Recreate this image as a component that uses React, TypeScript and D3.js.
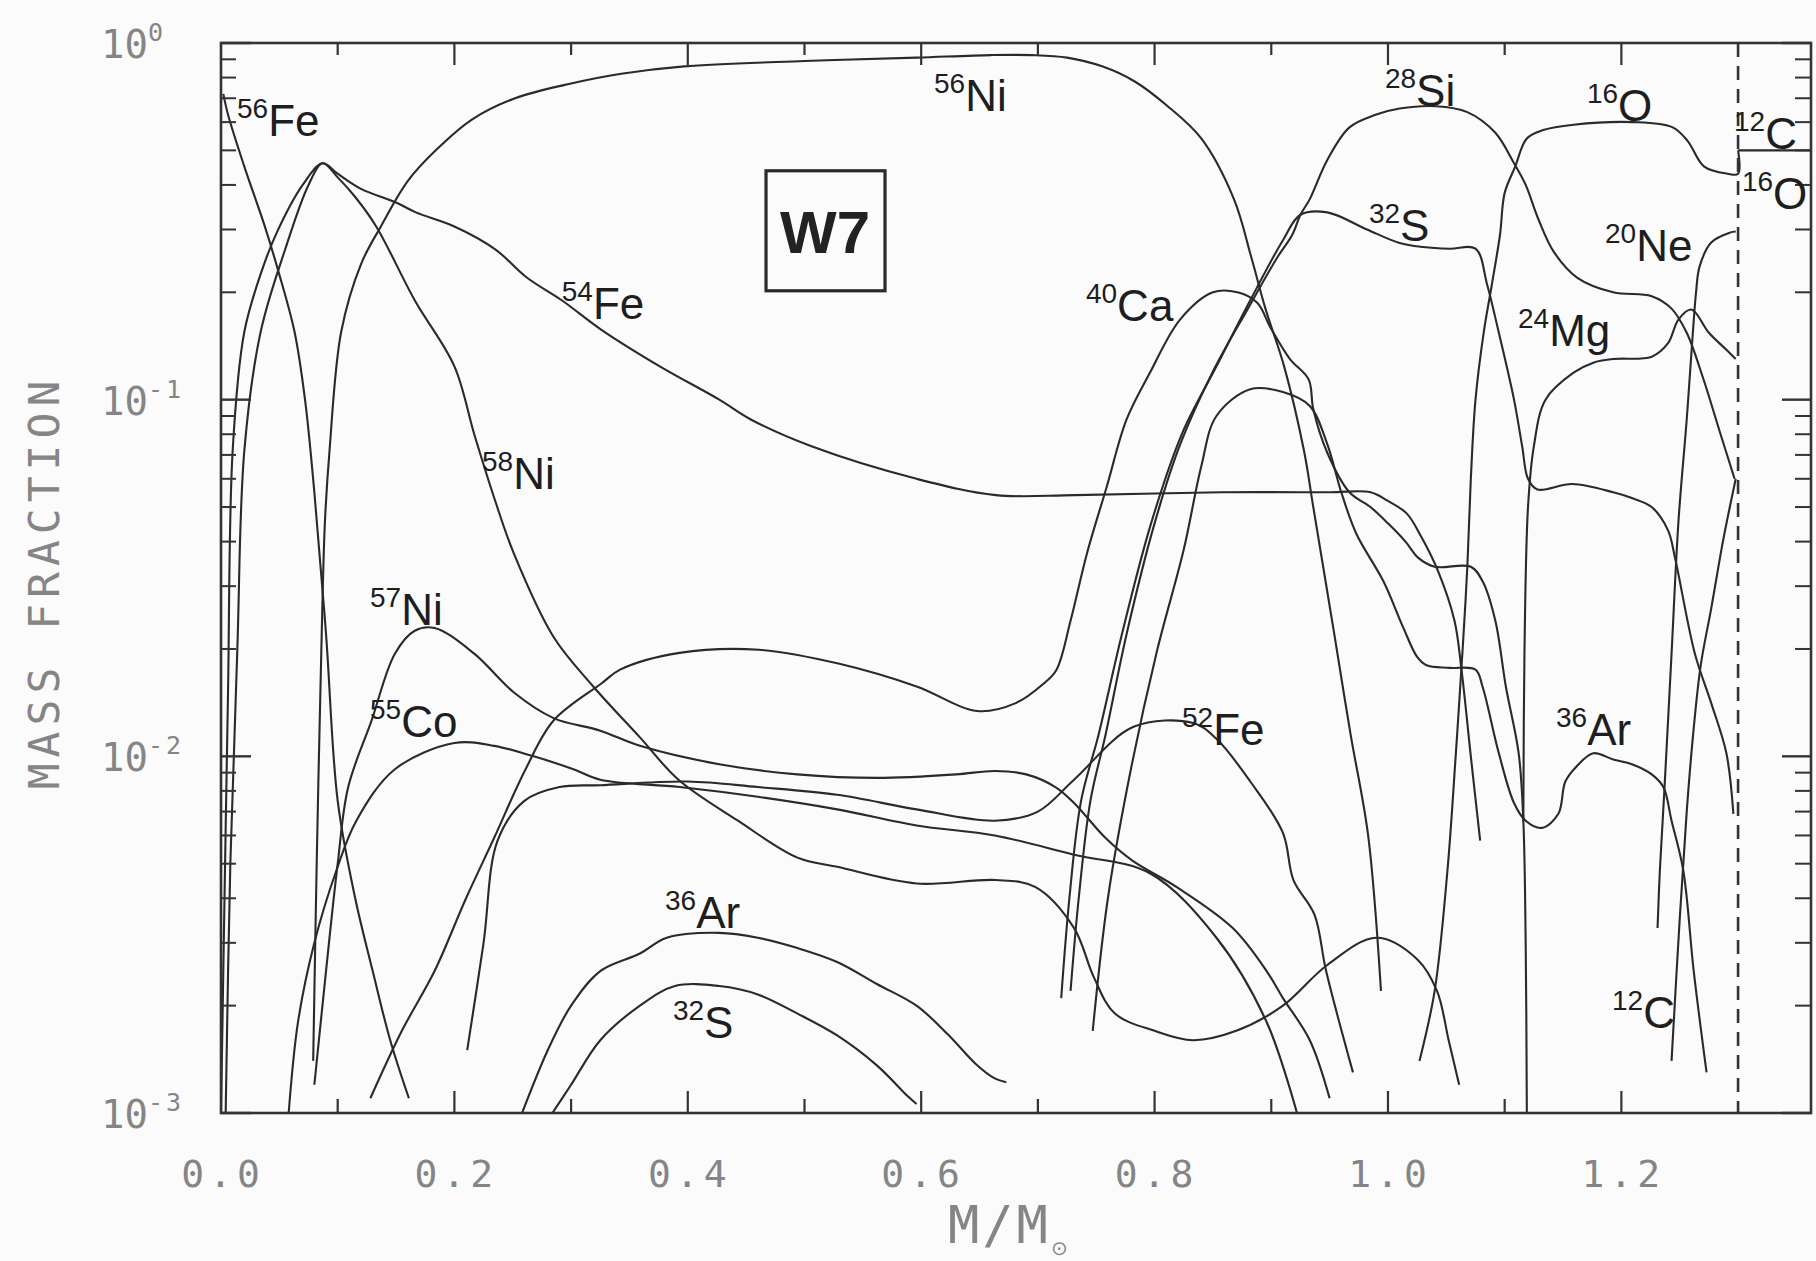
import React from 'react';
import * as d3 from 'd3';

type Pt = [number, number];

// ---------- data: mass coordinate M/Msun, mass fraction ----------
const ni56: Pt[] = [[0.079,0.0014],[0.082,0.005],[0.086,0.02],[0.089,0.045],[0.093,0.072],[0.103,0.155],[0.12,0.24],[0.137,0.306],[0.16,0.41],[0.184,0.50],[0.215,0.61],[0.252,0.70],[0.3,0.77],[0.343,0.82],[0.397,0.86],[0.5,0.89],[0.596,0.91],[0.66,0.925],[0.695,0.925],[0.725,0.91],[0.755,0.86],[0.783,0.78],[0.81,0.67],[0.84,0.54],[0.868,0.365],[0.883,0.25],[0.895,0.18],[0.911,0.124],[0.928,0.072],[0.936,0.05],[0.954,0.022],[0.968,0.0115],[0.983,0.006],[0.994,0.0022]];
const fe56: Pt[] = [[0.002,0.72],[0.006,0.63],[0.02,0.45],[0.037,0.31],[0.049,0.23],[0.063,0.155],[0.072,0.10],[0.08,0.055],[0.09,0.022],[0.1,0.0075],[0.115,0.004],[0.13,0.0025],[0.145,0.0016],[0.161,0.0011]];
const fe54: Pt[] = [[0.0,0.001],[0.003,0.004],[0.006,0.015],[0.01,0.072],[0.02,0.155],[0.035,0.23],[0.048,0.295],[0.07,0.40],[0.087,0.46],[0.1,0.43],[0.12,0.39],[0.15,0.357],[0.167,0.335],[0.2,0.306],[0.235,0.264],[0.262,0.22],[0.292,0.19],[0.326,0.157],[0.376,0.124],[0.427,0.10],[0.454,0.088],[0.506,0.074],[0.596,0.06],[0.664,0.054],[0.732,0.054],[0.857,0.055],[0.95,0.055],[0.985,0.055],[1.0,0.052],[1.016,0.048],[1.029,0.041],[1.043,0.033],[1.057,0.024],[1.063,0.0175],[1.071,0.01],[1.079,0.0058]];
const ni58: Pt[] = [[0.004,0.001],[0.008,0.005],[0.014,0.02],[0.02,0.072],[0.034,0.155],[0.055,0.264],[0.075,0.40],[0.087,0.46],[0.1,0.42],[0.115,0.37],[0.133,0.306],[0.166,0.19],[0.2,0.124],[0.217,0.08],[0.235,0.052],[0.251,0.037],[0.285,0.0216],[0.319,0.0157],[0.359,0.0113],[0.392,0.0086],[0.443,0.0066],[0.494,0.0052],[0.528,0.0049],[0.596,0.0044],[0.664,0.0045],[0.698,0.0043],[0.731,0.0033],[0.748,0.0024],[0.766,0.0019],[0.8,0.0017],[0.833,0.0016],[0.87,0.0017],[0.91,0.002],[0.948,0.0026],[0.99,0.0031],[1.025,0.0027],[1.042,0.0022],[1.052,0.0016],[1.061,0.0012]];
const ni57: Pt[] = [[0.08,0.0012],[0.09,0.0025],[0.1,0.005],[0.109,0.0082],[0.129,0.0126],[0.149,0.0194],[0.166,0.0225],[0.183,0.0229],[0.217,0.0194],[0.251,0.0151],[0.285,0.0128],[0.325,0.0118],[0.359,0.0107],[0.427,0.0095],[0.494,0.0089],[0.562,0.0087],[0.63,0.0089],[0.663,0.0091],[0.69,0.0089],[0.715,0.0082],[0.731,0.0074],[0.758,0.0059],[0.781,0.0051],[0.819,0.0043],[0.867,0.0033],[0.896,0.0025],[0.91,0.0021],[0.933,0.0016],[0.95,0.0011]];
const co55: Pt[] = [[0.058,0.001],[0.066,0.0018],[0.08,0.003],[0.099,0.0048],[0.116,0.0066],[0.149,0.0092],[0.2,0.0109],[0.234,0.0107],[0.268,0.01],[0.302,0.0092],[0.325,0.0086],[0.393,0.0082],[0.46,0.0077],[0.528,0.0071],[0.596,0.0064],[0.663,0.006],[0.731,0.0053],[0.796,0.0047],[0.853,0.0031],[0.896,0.0018],[0.922,0.001]];
const ca40: Pt[] = [[0.128,0.0011],[0.155,0.0017],[0.183,0.0025],[0.21,0.004],[0.234,0.0059],[0.261,0.0092],[0.285,0.0126],[0.326,0.016],[0.342,0.0175],[0.393,0.0195],[0.461,0.0199],[0.529,0.0182],[0.596,0.0157],[0.648,0.0134],[0.681,0.0141],[0.705,0.016],[0.716,0.0175],[0.728,0.024],[0.742,0.037],[0.759,0.057],[0.776,0.088],[0.796,0.119],[0.822,0.168],[0.85,0.2],[0.871,0.2],[0.888,0.187],[0.899,0.16],[0.916,0.13],[0.932,0.114],[0.936,0.094],[0.948,0.071],[0.967,0.055],[0.985,0.05],[1.0,0.045],[1.015,0.04],[1.026,0.036],[1.04,0.034],[1.071,0.034],[1.081,0.031],[1.092,0.024],[1.101,0.0157],[1.112,0.0102],[1.116,0.0066],[1.118,0.003],[1.119,0.001]];
const fe52: Pt[] = [[0.211,0.0015],[0.225,0.003],[0.237,0.0058],[0.26,0.0075],[0.29,0.0082],[0.325,0.0083],[0.4,0.0085],[0.46,0.0082],[0.528,0.0078],[0.596,0.0071],[0.663,0.0066],[0.7,0.007],[0.731,0.0086],[0.782,0.0121],[0.833,0.0124],[0.853,0.0112],[0.882,0.0085],[0.91,0.0061],[0.919,0.0045],[0.937,0.0036],[0.947,0.0025],[0.97,0.0013]];
const ar36Low: Pt[] = [[0.258,0.001],[0.28,0.0015],[0.3,0.002],[0.325,0.0025],[0.359,0.0028],[0.382,0.0031],[0.427,0.0032],[0.46,0.0031],[0.494,0.0029],[0.528,0.00265],[0.562,0.0023],[0.596,0.002],[0.623,0.00166],[0.647,0.00137],[0.663,0.00125],[0.673,0.00122]];
const s32Low: Pt[] = [[0.284,0.001],[0.3,0.0012],[0.325,0.0016],[0.359,0.002],[0.389,0.00227],[0.427,0.00227],[0.46,0.00215],[0.494,0.0019],[0.528,0.00165],[0.562,0.00136],[0.589,0.00111],[0.596,0.00106]];
const ar36: Pt[] = [[0.747,0.0017],[0.76,0.004],[0.78,0.0093],[0.802,0.0197],[0.825,0.038],[0.84,0.065],[0.853,0.09],[0.882,0.107],[0.91,0.105],[0.933,0.096],[0.948,0.075],[0.96,0.055],[0.973,0.042],[0.996,0.031],[1.013,0.023],[1.025,0.019],[1.033,0.018],[1.053,0.0177],[1.075,0.0175],[1.081,0.0157],[1.095,0.0102],[1.108,0.0074],[1.118,0.0066],[1.132,0.0063],[1.146,0.0069],[1.152,0.0085],[1.162,0.0094],[1.176,0.0102],[1.193,0.0098],[1.209,0.0095],[1.226,0.0089],[1.236,0.0082],[1.243,0.0066],[1.253,0.0048],[1.262,0.0025],[1.273,0.0013]];
const s32: Pt[] = [[0.72,0.0021],[0.727,0.004],[0.737,0.0075],[0.752,0.0115],[0.772,0.022],[0.797,0.045],[0.824,0.081],[0.853,0.124],[0.882,0.19],[0.91,0.28],[0.925,0.33],[0.948,0.335],[0.982,0.30],[1.01,0.275],[1.03,0.268],[1.053,0.265],[1.075,0.265],[1.085,0.21],[1.095,0.154],[1.108,0.10],[1.115,0.074],[1.12,0.06],[1.128,0.056],[1.158,0.058],[1.193,0.055],[1.209,0.053],[1.226,0.05],[1.24,0.043],[1.246,0.036],[1.263,0.0194],[1.277,0.0141],[1.29,0.0102],[1.296,0.0069]];
const si28: Pt[] = [[0.728,0.0022],[0.735,0.004],[0.745,0.0075],[0.758,0.0115],[0.776,0.022],[0.8,0.045],[0.822,0.075],[0.85,0.12],[0.88,0.18],[0.905,0.25],[0.918,0.29],[0.925,0.33],[0.933,0.365],[0.948,0.47],[0.967,0.58],[0.99,0.63],[1.01,0.655],[1.041,0.665],[1.068,0.64],[1.092,0.56],[1.108,0.46],[1.118,0.40],[1.129,0.32],[1.142,0.26],[1.162,0.22],[1.193,0.2],[1.226,0.195],[1.243,0.18],[1.256,0.154],[1.27,0.115],[1.285,0.08],[1.297,0.06]];
const o16: Pt[] = [[1.027,0.0014],[1.04,0.0022],[1.051,0.0048],[1.058,0.01],[1.064,0.02],[1.068,0.034],[1.071,0.06],[1.075,0.1],[1.082,0.154],[1.089,0.21],[1.096,0.29],[1.1,0.38],[1.109,0.45],[1.119,0.54],[1.133,0.57],[1.159,0.59],[1.21,0.6],[1.244,0.58],[1.257,0.53],[1.271,0.45],[1.291,0.43],[1.3,0.43],[1.3,0.5]];
const mg24: Pt[] = [[1.116,0.0066],[1.117,0.02],[1.12,0.05],[1.125,0.074],[1.135,0.1],[1.159,0.119],[1.176,0.127],[1.193,0.13],[1.226,0.132],[1.24,0.144],[1.249,0.168],[1.26,0.179],[1.275,0.154],[1.29,0.138],[1.298,0.13]];
const ne20: Pt[] = [[1.231,0.0033],[1.233,0.0048],[1.237,0.0082],[1.243,0.0194],[1.249,0.046],[1.256,0.088],[1.261,0.15],[1.264,0.2],[1.267,0.236],[1.277,0.276],[1.293,0.294],[1.298,0.296]];
const c12: Pt[] = [[1.243,0.0014],[1.25,0.0035],[1.256,0.007],[1.262,0.012],[1.268,0.018],[1.277,0.026],[1.287,0.04],[1.294,0.052],[1.298,0.06]];
const c12o16Outer: Pt[] = [[1.3,0.5],[1.3625,0.5]];

const series: { name: string; data: Pt[] }[] = [
  { name: '56Ni', data: ni56 }, { name: '56Fe', data: fe56 }, { name: '54Fe', data: fe54 },
  { name: '58Ni', data: ni58 }, { name: '57Ni', data: ni57 }, { name: '55Co', data: co55 },
  { name: '40Ca', data: ca40 }, { name: '52Fe', data: fe52 }, { name: '36Ar', data: ar36Low },
  { name: '32S', data: s32Low }, { name: '36Ar', data: ar36 }, { name: '32S', data: s32 },
  { name: '28Si', data: si28 }, { name: '16O', data: o16 }, { name: '24Mg', data: mg24 },
  { name: '20Ne', data: ne20 }, { name: '12C', data: c12 }, { name: '12C+16O', data: c12o16Outer },
];

// label anchors (M/Msun, mass fraction at baseline)
const labels: { mass: string; el: string; m: number; v: number }[] = [
  { mass: '56', el: 'Fe', m: 0.0137, v: 0.549 },
  { mass: '54', el: 'Fe', m: 0.292, v: 0.1686 },
  { mass: '56', el: 'Ni', m: 0.611, v: 0.645 },
  { mass: '58', el: 'Ni', m: 0.2237, v: 0.0563 },
  { mass: '57', el: 'Ni', m: 0.1277, v: 0.0233 },
  { mass: '55', el: 'Co', m: 0.1277, v: 0.0113 },
  { mass: '36', el: 'Ar', m: 0.3805, v: 0.0033 },
  { mass: '32', el: 'S', m: 0.3873, v: 0.00162 },
  { mass: '40', el: 'Ca', m: 0.7412, v: 0.1665 },
  { mass: '52', el: 'Fe', m: 0.8235, v: 0.01074 },
  { mass: '28', el: 'Si', m: 0.9974, v: 0.666 },
  { mass: '32', el: 'S', m: 0.9837, v: 0.279 },
  { mass: '16', el: 'O', m: 1.1705, v: 0.605 },
  { mass: '12', el: 'C', m: 1.2965, v: 0.505 },
  { mass: '16', el: 'O', m: 1.3033, v: 0.343 },
  { mass: '20', el: 'Ne', m: 1.186, v: 0.245 },
  { mass: '24', el: 'Mg', m: 1.1114, v: 0.1416 },
  { mass: '36', el: 'Ar', m: 1.144, v: 0.01074 },
  { mass: '12', el: 'C', m: 1.192, v: 0.00173 },
];

const xTickLabels = ['0.0', '0.2', '0.4', '0.6', '0.8', '1.0', '1.2'];
const yTickExps = ['0', '-1', '-2', '-3'];
const modelName = 'W7';
const modelBox = { m: 0.5176, v: 0.2975 };
const boundaryM = 1.3;

// ---------- layout ----------
const W = 1816, H = 1261;
const X0 = 221, X1 = 1811, Y0 = 43, Y1 = 1113;
const M_MAX = 1.3625;

export default function App() {
  const x = d3.scaleLinear().domain([0, M_MAX]).range([X0, X1]);
  const y = d3.scaleLog().domain([1e-3, 1]).range([Y1, Y0]);
  const line = d3.line<Pt>().x(d => x(d[0])).y(d => y(d[1])).curve(d3.curveCatmullRom.alpha(0.5));

  const axisColor = '#333';
  const textGray = '#858585';
  const minorY: number[] = [];
  for (let d = -3; d < 0; d++) for (let k = 2; k <= 9; k++) minorY.push(k * Math.pow(10, d));
  const majorY = [1, 0.1, 0.01, 0.001];
  const xt = d3.range(1, 13).map(i => i / 10);

  return (
    <svg width={W} height={H} style={{ position: 'absolute', left: 0, top: 0, display: 'block' }}>
      <rect x={0} y={0} width={W} height={H} fill="#fbfbfb" />
      <defs>
        <clipPath id="plotclip">
          <rect x={X0} y={Y0} width={X1 - X0} height={Y1 - Y0} />
        </clipPath>
      </defs>

      {/* curves */}
      <g clipPath="url(#plotclip)" fill="none" stroke="#2a2a2a" strokeWidth={2.1} strokeLinejoin="round">
        {series.map((s, i) => (
          <path key={i} d={line(s.data) || ''} />
        ))}
      </g>

      {/* dashed boundary */}
      <line x1={x(boundaryM)} x2={x(boundaryM)} y1={Y0} y2={Y1} stroke={axisColor} strokeWidth={2.6} strokeDasharray="14 9" />

      {/* frame */}
      <rect x={X0} y={Y0} width={X1 - X0} height={Y1 - Y0} fill="none" stroke={axisColor} strokeWidth={2.6} />

      {/* y ticks left & right */}
      {minorY.map((v, i) => (
        <g key={'my' + i} stroke={axisColor} strokeWidth={2}>
          <line x1={X0} x2={X0 + 15} y1={y(v)} y2={y(v)} />
          <line x1={X1} x2={X1 - 16} y1={y(v)} y2={y(v)} />
        </g>
      ))}
      {majorY.map((v, i) => (
        <g key={'My' + i} stroke={axisColor} strokeWidth={2.4}>
          <line x1={X0} x2={X0 + 30} y1={y(v)} y2={y(v)} />
          <line x1={X1} x2={X1 - 29} y1={y(v)} y2={y(v)} />
        </g>
      ))}
      {/* x ticks top & bottom */}
      {xt.map((m, i) => {
        const major = Math.round(m * 10) % 2 === 0;
        return (
          <g key={'xt' + i} stroke={axisColor} strokeWidth={2.2}>
            <line x1={x(m)} x2={x(m)} y1={Y0} y2={Y0 + (major ? 22 : 12)} />
            <line x1={x(m)} x2={x(m)} y1={Y1} y2={Y1 - (major ? 22 : 14)} />
          </g>
        );
      })}

      {/* y tick labels */}
      {yTickExps.map((e, i) => (
        <text key={'yl' + i} x={101} y={y(majorY[i]) + 15} fontFamily="'DejaVu Sans Mono', monospace" fontSize={39} fill={textGray}>
          10<tspan fontSize={25} dy={-17} letterSpacing={3}>{e}</tspan>
        </text>
      ))}
      {/* x tick labels */}
      {xTickLabels.map((t, i) => (
        <text key={'xl' + i} x={x(+t) + 2} y={1187} textAnchor="middle" fontFamily="'DejaVu Sans Mono', monospace" fontSize={38} letterSpacing={5} fill={textGray}>
          {t}
        </text>
      ))}

      {/* axis titles */}
      <text transform={`translate(59, 582) rotate(-90)`} textAnchor="middle" fontFamily="'DejaVu Sans Mono', monospace" fontSize={43} letterSpacing={6} fill={textGray}>
        MASS FRACTION
      </text>
      <text x={948} y={1243} fontFamily="'DejaVu Sans Mono', monospace" fontSize={52} letterSpacing={3} fill={textGray}>
        M/M<tspan fontFamily="'DejaVu Sans', sans-serif" fontSize={20} dy={12}>⊙</tspan>
      </text>

      {/* isotope labels */}
      {labels.map((l, i) => (
        <text key={'lab' + i} x={x(l.m)} y={y(l.v)} fontFamily="'Liberation Sans', Arial, sans-serif" fill="#1e1e1e">
          <tspan fontSize={28} dy={-18}>{l.mass}</tspan>
          <tspan fontSize={44} dy={18}>{l.el}</tspan>
        </text>
      ))}

      {/* model box */}
      <rect x={x(modelBox.m) - 59} y={y(modelBox.v) - 60} width={119} height={120} fill="none" stroke="#2a2a2a" strokeWidth={3.2} />
      <text x={x(modelBox.m)} y={y(modelBox.v) + 22} textAnchor="middle" fontFamily="'Liberation Sans', Arial, sans-serif" fontWeight="bold" fontSize={60} fill="#222">
        {modelName}
      </text>
    </svg>
  );
}
